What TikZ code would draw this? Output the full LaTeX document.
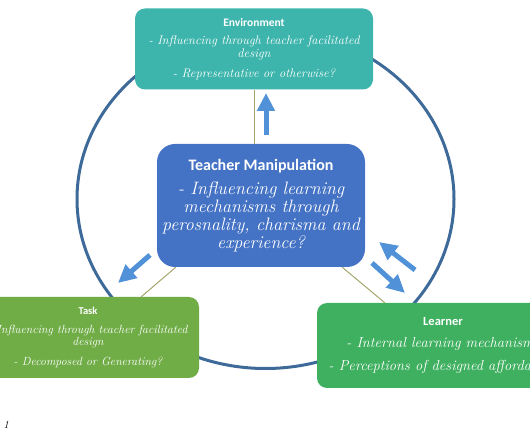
\documentclass[tikz,border=0pt]{standalone}
\usepackage{fontspec}
\newfontfamily\titlefont{Carlito}
\usetikzlibrary{arrows.meta}
\definecolor{RingClr}{RGB}{62,106,153}
\definecolor{EnvClr}{RGB}{62,181,172}
\definecolor{TeachClr}{RGB}{68,114,196}
\definecolor{TaskClr}{RGB}{112,173,71}
\definecolor{LearnClr}{RGB}{63,176,96}
\definecolor{ArrowClr}{RGB}{80,145,215}
\definecolor{LinkClr}{RGB}{165,165,110}

\tikzset{
  box/.style={rounded corners=10pt,text=white,align=center,inner sep=0pt},
  link/.style={LinkClr,line width=1pt},
  blockarrow/.style={ArrowClr,line width=5pt,-{Triangle[width=17pt,length=18pt]}},
}

\begin{document}
\begin{tikzpicture}[x=1pt,y=-1pt]
\useasboundingbox (0,0) rectangle (530,443);
\clip (0,0) rectangle (530,443);

% the ring
\draw[RingClr,line width=3pt] (265.5,199) ellipse [x radius=188.5,y radius=169.5];

% boxes
\node[box,fill=EnvClr,minimum width=238,minimum height=81,
      font=\itshape\fontsize{12.5}{13}\selectfont] (env) at (254,49)
  {{\titlefont\upshape\bfseries\fontsize{11.5}{13}\selectfont Environment}\\[5pt]
   - Influencing through teacher facilitated\\ design\\[7pt]
   - Representative or otherwise?};

\node[box,rounded corners=18pt,fill=TeachClr,minimum width=208,minimum height=123,
      font=\itshape\fontsize{18}{18}\selectfont] (teach) at (261,205.5)
  {{\titlefont\upshape\bfseries\fontsize{16}{17}\selectfont Teacher Manipulation}\\[6pt]
   - Influencing learning\\ mechanisms through\\ perosnality, charisma and\\ experience?};

\node[box,fill=TaskClr,minimum width=222,minimum height=81,
      font=\itshape\fontsize{11.8}{12}\selectfont] (task) at (88,337.5)
  {{\titlefont\upshape\bfseries\fontsize{10.5}{12}\selectfont Task}\\[7pt]
   - Influencing through teacher facilitated\\ design\\[8pt]
   - Decomposed or Generating?};

\node[box,fill=LearnClr,minimum width=252,minimum height=85,
      font=\itshape\fontsize{14.5}{15}\selectfont] (learn) at (443,345.5)
  {{\titlefont\upshape\bfseries\fontsize{12.5}{14}\selectfont Learner}\\[7pt]
   - Internal learning mechanisms\\[8pt]
   - Perceptions of designed affordances};

% links between the boxes
\draw[link] (env.south) -- (env.south |- teach.north);
\draw[link] ([xshift=19pt]teach.south west) -- ([xshift=-58pt]task.north east);
\draw[link] ([xshift=-23pt]teach.south east) -- ([xshift=68pt]learn.north west);

% block arrows
\draw[blockarrow] (266,135) -- (266,93);
\draw[blockarrow] (150,255) -- (118,283);
\draw[blockarrow] (415,270) -- (379,242);
\draw[blockarrow] (372,263) -- (405,293);

\node[font=\itshape\fontsize{11}{12}\selectfont] (fig) at (6,425) {1};
\end{tikzpicture}
\end{document}
